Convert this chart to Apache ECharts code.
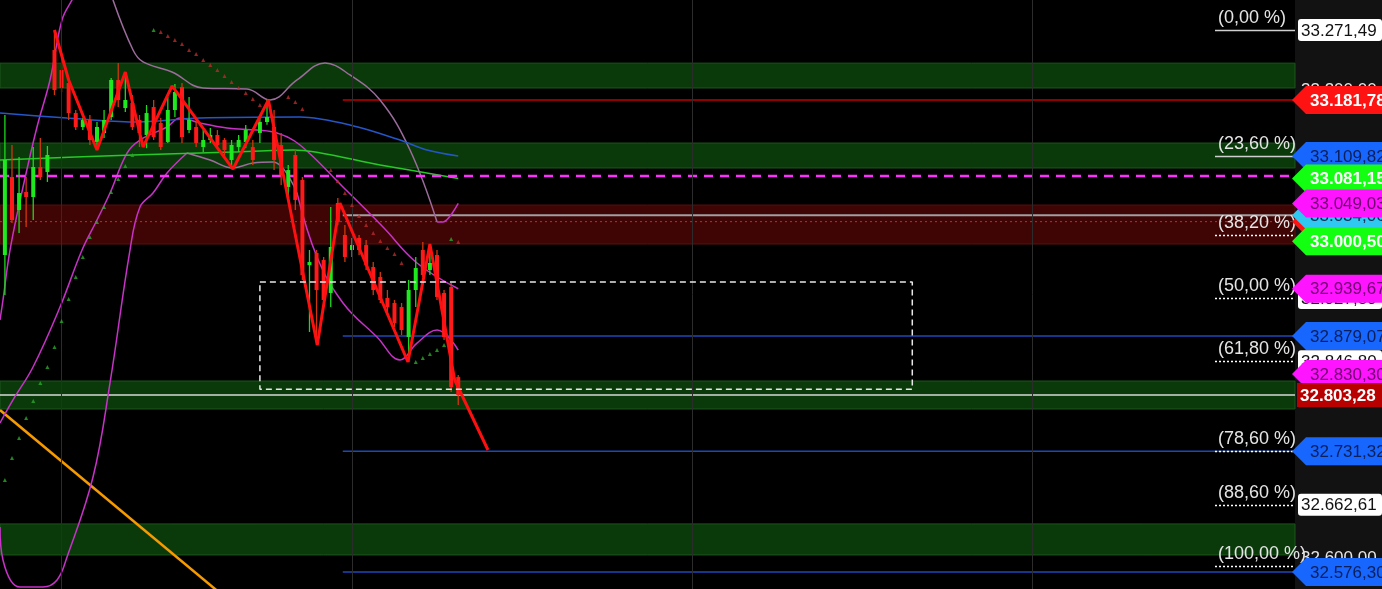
<!DOCTYPE html>
<html><head><meta charset="utf-8">
<script src="https://cdn.jsdelivr.net/npm/echarts@6/dist/echarts.min.js"></script>
<style>html,body{margin:0;padding:0;background:#121212;overflow:hidden}#c{width:1382px;height:589px}</style>
</head><body><div id="c"></div>
<script>
// ---------- DATA ----------
const Y_MIN = 32554.55, Y_MAX = 33309.97;
const X_MIN = -0.692, X_MAX = 182.13;

const opens  = [32982.9,33082.9,33040.6,33063.7,33057.3,33095.8,33089.4,33245.8,33220.2,33203.5,33165.0,33147.1,33156.1,33127.9,33139.4,33159.9,33207.4,33171.4,33177.9,33156.1,33136.8,33172.7,33152.2,33127.9,33168.9,33198.4,33143.2,33147.1,33121.4,33130.4,33136.8,33130.4,33104.8,33121.4,33127.9,33121.4,33139.4,33153.5,33147.1,33124.0,33070.1,33111.2,33079.1,32969.9,32985.5,32976.5,32934.2,33049.6,33008.6,32989.3,33004.7,32995.7,32967.5,32954.7,32927.8,32921.4,32916.2,32877.7,32938.0,32989.3,32963.7,32982.9,32934.2,32941.9,32826.4];
const closes = [33104.8,33027.8,33062.4,33057.3,33095.8,33082.9,33111.2,33194.5,33197.1,33165.0,33147.1,33156.1,33130.4,33147.1,33156.1,33207.4,33181.7,33181.7,33147.1,33139.4,33165.0,33134.2,33121.4,33168.9,33192.0,33134.2,33156.1,33126.6,33130.4,33136.8,33124.0,33117.6,33124.0,33130.4,33143.2,33104.8,33153.5,33159.9,33104.8,33085.5,33091.9,33053.5,32957.3,32973.9,32938.0,32925.2,32993.2,33025.3,32980.4,32995.7,32989.3,32969.9,32938.0,32925.2,32916.2,32895.7,32886.7,32938.0,32966.2,32957.3,32972.7,32929.1,32877.7,32813.6,32803.28];
const highs  = [33162.5,33124.0,33108.6,33082.9,33121.4,33133.0,33122.7,33271.5,33229.2,33209.9,33168.9,33158.6,33162.5,33153.5,33168.9,33209.9,33229.2,33217.6,33188.1,33162.5,33175.3,33181.7,33158.6,33185.6,33202.2,33203.5,33185.6,33153.5,33143.2,33145.8,33143.2,33133.0,33130.4,33136.8,33149.7,33130.4,33159.9,33181.7,33168.9,33139.4,33098.3,33117.6,33082.9,32989.3,32989.3,32980.4,33044.5,33056.0,33021.4,33004.7,33008.6,33002.2,32973.9,32961.1,32938.0,32925.2,32921.4,32950.9,32980.4,32999.6,32997.0,32989.3,32938.0,32947.0,32829.0];
const lows   = [32931.6,33024.0,33011.2,33018.8,33027.8,33079.1,33076.6,33188.1,33192.0,33156.1,33143.2,33143.2,33124.0,33117.6,33133.0,33156.1,33172.7,33166.3,33143.2,33121.4,33119.9,33130.4,33117.6,33126.6,33159.9,33126.6,33139.4,33121.4,33115.0,33126.6,33120.1,33108.6,33093.2,33115.0,33120.1,33098.3,33126.6,33150.1,33091.9,33072.7,33059.9,33040.6,32950.9,32884.2,32867.5,32921.4,32916.2,33021.4,32973.9,32980.4,32982.9,32963.7,32931.6,32921.4,32909.8,32890.6,32880.3,32845.7,32916.2,32954.7,32957.3,32925.2,32873.9,32807.2,32790.6];

const zigzag = [[7,33271.5],[9,33207.4],[13,33117.6],[17,33217.6],[19.5,33121.4],[23.6,33199.7],[32.2,33093.2],[37.2,33181.7],[44.1,32867.5],[47.3,33049.6],[56.9,32845.7],[60,32997.0],[63.5,32822.6],[68.2,32732.8]];

const bbUpper = [[-0.69,32899.6],[-0.27,32925.2],[0.72,32989.3],[2.56,33070.1],[4.53,33147.1],[6.37,33207.4],[8.06,33284.3],[9.47,33310.0],[11.31,33342.0],[13.43,33342.0],[15.26,33310.0],[18.09,33245.8],[19.5,33230.5],[23.59,33217.6],[27.97,33197.1],[34.18,33195.8],[37.43,33181.7],[41.24,33207.4],[45.19,33229.2],[48.72,33213.8],[52.96,33181.7],[57.19,33117.6],[61.01,33025.3],[61.85,33025.3],[64,33049.03]];
const bbMiddle = [[-0.69,32767.5],[1.14,32797.0],[3.97,32839.3],[7.78,32916.2],[10.89,32989.3],[13.0,33027.8],[14.84,33062.4],[17.24,33113.7],[19.07,33130.4],[22.89,33147.1],[24.72,33158.6],[27.54,33152.2],[31.36,33145.8],[35.59,33143.2],[38.41,33139.4],[41.66,33124.0],[47.73,33070.1],[53.38,33018.8],[58.18,32972.7],[64,32939.67]];
const bbLower = [[-0.69,32634.1],[-0.27,32591.8],[2.13,32557.1],[5.38,32557.1],[7.36,32566.1],[8.77,32595.6],[12.44,32698.2],[14.84,32819.0],[17.66,32989.3],[19.07,33044.5],[20.91,33062.4],[22.89,33088.1],[25.71,33113.7],[28.96,33104.8],[32.2,33094.5],[35.03,33100.9],[37.85,33102.2],[41.24,33062.4],[44.06,32980.4],[47.73,32921.4],[52.53,32877.7],[55.78,32848.3],[58.18,32870.0],[61.01,32886.7],[64,32861.0]];

const maBlue  = [[-0.69,33165.0],[8.77,33158.6],[18.09,33153.5],[27.54,33158.6],[41.66,33159.9],[48.72,33149.7],[55.78,33130.4],[59.59,33117.6],[64,33109.82]];
const maGreen = [[-0.69,33104.8],[18.09,33111.2],[32.2,33115.0],[40.68,33117.6],[52.96,33098.3],[64,33081.15]];
const trendLine = [[-0.69,32784.1],[31.5,32540.7]];

const sarGreen = [[0,32694.4],[1,32722.6],[2,32748.2],[3,32773.9],[4,32795.7],[5,32818.8],[6,32839.3],[7,32865.0],[8,32898.3],[9,32926.5],[10,32954.7],[11,32980.4],[12,33006.0],[13,33025.3],[14,33044.5],[15,33063.7],[16,33080.4],[17,33097.1],[18,33111.2],[21,33271.5],[58,32845.7],[59,32850.8],[60,32855.9],[61,32861.1],[62,32867.5],[63,33003.5]];
const sarRed = [[22,33268.9],[23,33263.8],[24,33258.7],[25,33253.5],[26,33245.8],[27,33240.7],[28,33233.0],[29,33226.6],[30,33220.2],[31,33212.5],[32,33204.8],[33,33197.1],[34,33190.7],[35,33183.0],[36,33175.3],[40,33185.6],[41,33179.2],[42,33170.2],[46,33091.9],[47,33077.8],[48,33062.4],[49,33047.0],[50,33032.9],[51,33021.4],[52,33011.1],[53,33000.9],[54,32991.9],[55,32984.2],[56,32972.7],[64,32999.6]];

const greenZones = [[33197.1,33229.0],[33094.5,33126.5],[32785.4,32821.3],[32598.2,32638.0]];
const redZone = [32997.0,33047.0];
const sessionBreaks = [7.92,49.0,97.0,145.0];

const levelStart = 47.7;
const levelPrices = [33181.78,33034.06,32879.07,32731.32,32576.30];
const levelKinds  = ['red','gray','blue','blue','blue'];
const magentaDashed = 33084.2, lastPrice = 32803.28, redDotted = 33025.7;

const boxX = [36.0,128.1], boxY = [32810.8,32948.3];

const fibPct = ['(0,00 %)','(23,60 %)','(38,20 %)','(50,00 %)','(61,80 %)','(78,60 %)','(88,60 %)','(100,00 %)'];
const fibPrice = [33271.49,33109.32,33008.99,32927.89,32846.80,32731.35,32662.63,32584.29];

const tagPrice = [33200.00,33181.78,33025.70,33034.06,33109.82,33081.15,33049.03,33000.50,32927.89,32939.67,32846.80,32879.07,32830.30,32803.28,32731.32,32662.61,32600.00,32576.30,33271.49];
const tagText  = ['33.200,00','33.181,78','33.025,70','33.034,06','33.109,82','33.081,15','33.049,03','33.000,50','32.927,89','32.939,67','32.846,80','32.879,07','32.830,30','32.803,28','32.731,32','32.662,61','32.600,00','32.576,30','33.271,49'];
const tagKind  = ['plain','red','red','cyan','blue','green','magenta','green','white','magenta','white','blue','magenta','last','blue','white','plain','blue','white'];

// ---------- STYLE ----------
const FONT = 'Arial, "Liberation Sans", sans-serif';
const tagStyle = {
  red:{bg:'#ff1212',fg:'#ffffff',shape:'arrow',bold:true},
  cyan:{bg:'#2ec8f0',fg:'#0c2a55',shape:'arrow'},
  blue:{bg:'#1767ff',fg:'#0a1f5c',shape:'arrow'},
  green:{bg:'#12ff12',fg:'#ffffff',shape:'arrow',bold:true},
  magenta:{bg:'#ff14ff',fg:'#700070',shape:'arrow'},
  white:{bg:'#ffffff',fg:'#111111',shape:'box'},
  last:{bg:'#b80000',fg:'#ffffff',shape:'rect',bold:true},
  plain:{bg:null,fg:'#e6e6e6',shape:'plain'}
};
const levelColor = {red:'#c00000',gray:'#a0a0a0',blue:'#1d48b8'};

const candleData = opens.map((o,i)=>[i,o,closes[i],lows[i],highs[i]]);

function renderCandle(params, api){
  const x=api.value(0),o=api.value(1),c=api.value(2),l=api.value(3),h=api.value(4);
  const pO=api.coord([x,o]),pC=api.coord([x,c]),pL=api.coord([x,l]),pH=api.coord([x,h]);
  const up=c>=o, col=up?'#1ee81e':'#ff1a1a', wick=up?'#1ed81e':'#d0380c';
  const bw=4, top=Math.min(pO[1],pC[1]), bh=Math.max(1.5,Math.abs(pO[1]-pC[1]));
  return {type:'group',children:[
    {type:'line',shape:{x1:pH[0],y1:pH[1],x2:pL[0],y2:pL[1]},style:{stroke:wick,lineWidth:1.3}},
    {type:'rect',shape:{x:pO[0]-bw/2,y:top,width:bw,height:bh},style:{fill:col}}
  ]};
}

function renderTag(params, api){
  const k=api.value(2), cs=params.coordSys, x0=cs.x+cs.width;
  const y=api.coord([X_MAX,api.value(1)])[1];
  const st=tagStyle[tagKind[k]], txt=tagText[k];
  const font=(st.bold?'bold ':'')+'17px '+FONT;
  const children=[];
  let tx=x0+6, ty=y+1;
  if(st.shape==='arrow'){
    const h=14;
    children.push({type:'polygon',shape:{points:[[x0-3,y],[x0+11,y-h],[x0+100,y-h],[x0+100,y+h],[x0+11,y+h]]},style:{fill:st.bg}});
    tx=x0+15;
  } else if(st.shape==='box'){
    children.push({type:'rect',shape:{x:x0+3,y:y-11,width:84,height:22,r:3},style:{fill:st.bg}});
    tx=x0+6;
  } else if(st.shape==='rect'){
    children.push({type:'rect',shape:{x:x0+2,y:y-12,width:95,height:24},style:{fill:st.bg}});
    tx=x0+5;
  } else {
    ty=y+5;
  }
  children.push({type:'text',style:{text:txt,x:tx,y:ty,textVerticalAlign:'middle',textAlign:'left',font:font,fill:st.fg}});
  return {type:'group',children};
}

function renderFib(params, api){
  const k=api.value(2), cs=params.coordSys, xr=cs.x+cs.width;
  const y=Math.round(api.coord([X_MAX,api.value(1)])[1])+0.5;
  const dotted=k>=2;
  return {type:'group',children:[
    {type:'line',shape:{x1:xr-80,y1:y,x2:xr,y2:y},style:{stroke:dotted?'#ffffff':'#cfcfcf',lineWidth:1.5,lineDash:dotted?[2,2]:null}},
    {type:'text',style:{text:fibPct[k],x:xr-77,y:y-12,textVerticalAlign:'middle',textAlign:'left',font:'18px '+FONT,fill:'#e4e4e4'}}
  ]};
}

function seg(arr,a,b){return arr.slice(a,b);}

const series = [];
series.push({type:'line',data:[[X_MIN,Y_MIN],[X_MIN,Y_MIN]],showSymbol:false,lineStyle:{opacity:0},z:0,silent:true,
  markArea:{silent:true,data:greenZones.map(z=>[{yAxis:z[0],itemStyle:{color:'#0a3a0a',borderColor:'#1d551d',borderWidth:1}},{yAxis:z[1]}])
    .concat([[{yAxis:redZone[0],itemStyle:{color:'#3f0404',borderColor:'#5a1010',borderWidth:1}},{yAxis:redZone[1]}]])},
  markLine:{silent:true,symbol:['none','none'],label:{show:false},lineStyle:{color:'#2c2c2c',type:'solid',width:1},
    data:sessionBreaks.map(v=>({xAxis:v}))}
});
series.push({type:'line',data:[[X_MIN,redDotted],[X_MAX,redDotted]],showSymbol:false,lineStyle:{color:'#e02020',width:1,type:[2,3]},z:1});
series.push({type:'line',data:[[X_MIN,lastPrice],[X_MAX,lastPrice]],showSymbol:false,lineStyle:{color:'#d8d8d8',width:1.5},z:1});
levelPrices.forEach((p,k)=>{
  series.push({type:'line',data:[[levelStart,p],[X_MAX,p]],showSymbol:false,lineStyle:{color:levelColor[levelKinds[k]],width:levelKinds[k]==='gray'?2:1.5},z:1});
});
series.push({type:'line',data:trendLine,showSymbol:false,lineStyle:{color:'#f59a00',width:2.5},z:2});
const MAG='#c832c8', GRY='#9c6c9c';
series.push({type:'line',data:seg(bbUpper,0,11),smooth:0.4,showSymbol:false,lineStyle:{color:MAG,width:1.5},z:2});
series.push({type:'line',data:seg(bbUpper,10,23),smooth:0.4,showSymbol:false,lineStyle:{color:GRY,width:1.5},z:2});
series.push({type:'line',data:seg(bbUpper,22,25),smooth:0.3,showSymbol:false,lineStyle:{color:MAG,width:1.5},z:2});
series.push({type:'line',data:bbMiddle,smooth:0.4,showSymbol:false,lineStyle:{color:MAG,width:1.5},z:2});
series.push({type:'line',data:seg(bbLower,0,13),smooth:0.4,showSymbol:false,lineStyle:{color:MAG,width:1.5},z:2});
series.push({type:'line',data:seg(bbLower,12,18),smooth:0.4,showSymbol:false,lineStyle:{color:GRY,width:1.5},z:2});
series.push({type:'line',data:seg(bbLower,17,25),smooth:0.4,showSymbol:false,lineStyle:{color:MAG,width:1.5},z:2});
series.push({type:'line',data:maBlue,smooth:0.3,showSymbol:false,lineStyle:{color:'#2556c8',width:1.5},z:2});
series.push({type:'line',data:maGreen,smooth:0.3,showSymbol:false,lineStyle:{color:'#28c828',width:1.5},z:2});
series.push({type:'line',data:[[X_MIN,magentaDashed],[X_MAX,magentaDashed]],showSymbol:false,lineStyle:{color:'#ff30ff',width:2.5,type:[9,7]},z:3});
series.push({type:'custom',renderItem:renderCandle,data:candleData,encode:{x:0,y:[1,2,3,4]},z:4,clip:true});
series.push({type:'scatter',data:sarGreen,symbol:'triangle',symbolSize:4,itemStyle:{color:'#2aa82a'},z:5});
series.push({type:'scatter',data:sarRed,symbol:'triangle',symbolSize:4,itemStyle:{color:'#b82a2a'},z:5});
series.push({type:'line',data:zigzag,showSymbol:false,lineStyle:{color:'#ff1010',width:3},z:6});
series.push({type:'line',data:[[boxX[0],boxY[1]],[boxX[1],boxY[1]],[boxX[1],boxY[0]],[boxX[0],boxY[0]],[boxX[0],boxY[1]]],showSymbol:false,lineStyle:{color:'#e8e8e8',width:1.5,type:[6,4]},z:6});
series.push({type:'custom',renderItem:renderFib,data:fibPrice.map((p,k)=>[X_MAX,p,k]),encode:{x:0,y:1},clip:false,z:7});
series.push({type:'custom',renderItem:renderTag,data:tagPrice.map((p,k)=>[X_MAX,p,k]),encode:{x:0,y:1},clip:false,z:8});

const chart = echarts.init(document.getElementById('c'),null,{renderer:'canvas'});
chart.setOption({
  animation:false,
  backgroundColor:'#121212',
  grid:{left:0,right:87,top:0,bottom:0,show:true,backgroundColor:'#000000',borderWidth:0},
  xAxis:{type:'value',min:X_MIN,max:X_MAX,show:false},
  yAxis:{type:'value',min:Y_MIN,max:Y_MAX,show:false,scale:true},
  series
});
</script></body></html>
